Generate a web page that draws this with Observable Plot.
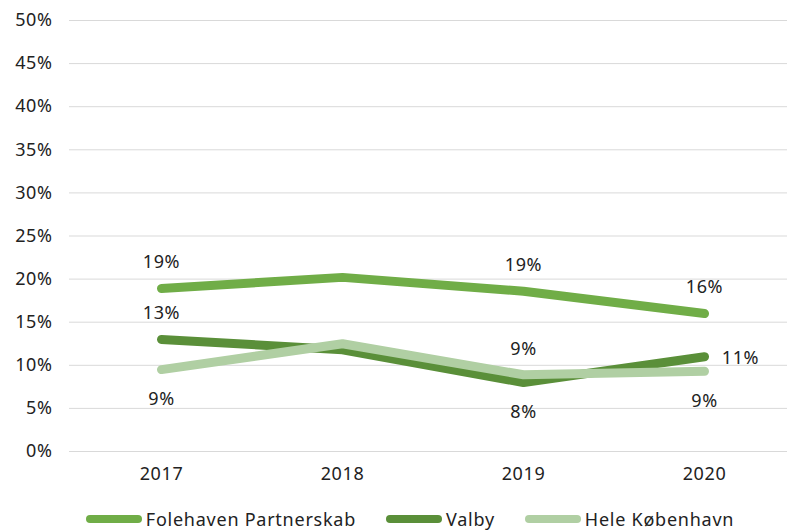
<!DOCTYPE html>
<html>
<head>
<meta charset="utf-8">
<script src="https://cdn.jsdelivr.net/npm/d3@7"></script>
<script src="https://cdn.jsdelivr.net/npm/@observablehq/plot@0.6"></script>
<style>
  body { margin: 0; background: #fff; font-family: "Noto Sans", sans-serif; }
  #legend { display: flex; justify-content: center; align-items: center; gap: 29px; height: 30px; font-size: 18px; letter-spacing: 0.75px; color: #222; margin-left: 32px; margin-top: 4px; }
  .item { display: flex; align-items: center; gap: 3px; }
  svg text { letter-spacing: 0.6px; }
</style>
</head>
<body>
<div id="chart"></div>
<div id="legend"></div>
<script>
const years = ["2017", "2018", "2019", "2020"];
const seriesNames = ["Folehaven Partnerskab", "Valby", "Hele København"];
const seriesColors = ["#70ad47", "#5a8f39", "#b0cfa3"];
const folehaven = [18.9, 20.2, 18.6, 16.0];
const valby = [13.0, 11.8, 8.0, 11.0];
const hele = [9.5, 12.5, 8.9, 9.3];
// label text and placement per point ("" = no label)
const folehavenLabels = ["19%", "", "19%", "16%"];
const folehavenPlace = ["above", "above", "above", "above"];
const valbyLabels = ["13%", "", "8%", "11%"];
const valbyPlace = ["above", "above", "below", "right"];
const heleLabels = ["9%", "", "9%", "9%"];
const helePlace = ["below", "below", "above", "below"];
const yTicks = [0, 5, 10, 15, 20, 25, 30, 35, 40, 45, 50];

const allValues = [folehaven, valby, hele];
const allLabels = [folehavenLabels, valbyLabels, heleLabels];
const allPlace = [folehavenPlace, valbyPlace, helePlace];
const data = [];
seriesNames.forEach((s, i) => years.forEach((y, j) => data.push({
  series: s, year: y, value: allValues[i][j], label: allLabels[i][j], place: allPlace[i][j]
})));
const labeled = data.filter(d => d.label !== "");

const font = "Noto Sans";
const fs = 18;
const chart = Plot.plot({
  width: 787,
  height: 500,
  marginLeft: 69,
  marginRight: 0,
  marginTop: 20,
  marginBottom: 49,
  style: { fontFamily: font, fontSize: fs + "px", color: "#222", background: "#fff" },
  x: { type: "point", domain: years, range: [69, 796], label: null },
  y: { domain: [0, 50], label: null },
  color: { domain: seriesNames, range: seriesColors },
  marks: [
    Plot.ruleY(yTicks, { stroke: "#d9d9d9", strokeWidth: 1 }),
    Plot.axisY({ ticks: yTicks, tickSize: 0, tickPadding: 17, tickFormat: d => d + "%", fontSize: fs }),
    Plot.axisX({ tickSize: 0, tickPadding: 16, fontSize: fs }),
    Plot.line(data, { x: "year", y: "value", z: "series", stroke: "series", strokeWidth: 9, strokeLinecap: "round", strokeLinejoin: "round" }),
    Plot.text(labeled.filter(d => d.place === "above"), { x: "year", y: "value", text: "label", dy: -26, fontSize: fs, fill: "#222" }),
    Plot.text(labeled.filter(d => d.place === "below"), { x: "year", y: "value", text: "label", dy: 30, fontSize: fs, fill: "#222" }),
    Plot.text(labeled.filter(d => d.place === "right"), { x: "year", y: "value", text: "label", dx: 36, dy: 2, fontSize: fs, fill: "#222" })
  ]
});
document.getElementById("chart").appendChild(chart);

const legend = document.getElementById("legend");
seriesNames.forEach((s, i) => {
  const item = document.createElement("div");
  item.className = "item";
  item.innerHTML = `<svg width="58" height="12"><line x1="5" y1="6" x2="53" y2="6" stroke="${seriesColors[i]}" stroke-width="8" stroke-linecap="round"/><circle cx="29" cy="6" r="4" fill="${seriesColors[i]}"/></svg><span>${s}</span>`;
  legend.appendChild(item);
});
</script>
</body>
</html>
